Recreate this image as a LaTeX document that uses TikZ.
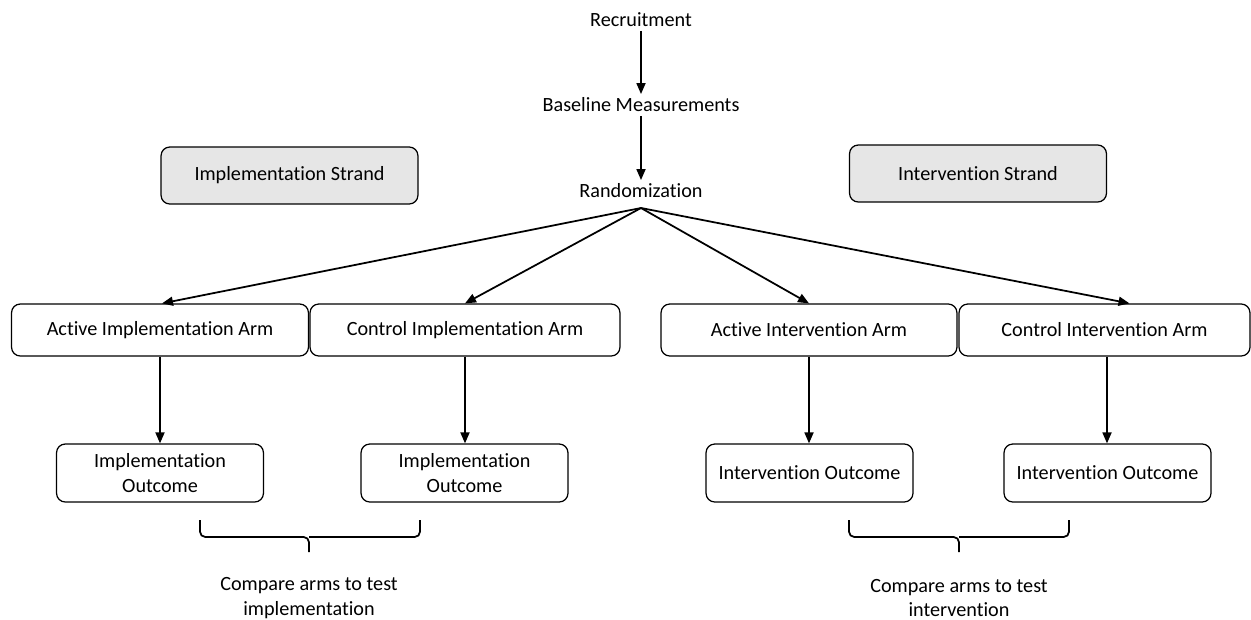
\documentclass[tikz,border=0pt]{standalone}
\usepackage{fontspec}
\setmainfont{Carlito}[Ligatures=NoCommon]
\usepackage{tikz}
\usetikzlibrary{arrows.meta, positioning, calc}
\definecolor{cStrand}{RGB}{230,230,230}
\tikzset{
	plain/.style={inner sep=2pt, font=\fontsize{11.5}{13.8}\selectfont, align=center},
	strand/.style={rectangle, rounded corners=5pt, draw=black, line width=0.7pt, fill=cStrand, minimum width=5.14cm, minimum height=1.14cm, font=\fontsize{11.5}{13.8}\selectfont},
	arm/.style={rectangle, rounded corners=5pt, draw=black, line width=0.7pt, fill=white, minimum height=1.04cm, font=\fontsize{11.5}{13.8}\selectfont},
	outcome/.style={rectangle, rounded corners=5pt, draw=black, line width=0.7pt, fill=white, minimum width=4.14cm, minimum height=1.16cm, align=center, font=\fontsize{11.5}{13.8}\selectfont},
	flowarrow/.style={-{Triangle[length=2.2mm, width=1.8mm]}, line width=1pt},
	% bracket under the outcomes
	bracket/.style={line width=1pt, rounded corners=3pt},
}

\begin{document}
\begin{tikzpicture}[x=0.02cm, y=-0.02cm]
	\useasboundingbox (0,0) rectangle (1251,619);
	% trunk
	\node[plain] (recruit) at (641,20)  {Recruitment};
	\node[plain] (base)    at (641,105) {Baseline Measurements};
	\node[plain] (rand)    at (641,191) {Randomization};
	\draw[flowarrow] (recruit) -- (base);
	\draw[flowarrow] (base) -- (rand);
	% strands
	\node[strand] (implstrand) at (289.5,175.5) {Implementation Strand};
	\node[strand] (intvstrand) at (978,173.5)   {Intervention Strand};
	% arms
	\node[arm, minimum width=5.94cm] (actimpl) at (160,330) {Active Implementation Arm};
	\node[arm, minimum width=6.2cm]  (conimpl) at (465,330)   {Control Implementation Arm};
	\node[arm, minimum width=5.92cm] (actintv) at (809,330)   {Active Intervention Arm};
	\node[arm, minimum width=5.82cm] (conintv) at (1104.5,330) {Control Intervention Arm};
	\coordinate (split) at (641,208);
	\draw[flowarrow] (split) -- ($(actimpl.north)+(2,0)$);
	\draw[flowarrow] (split) -- (conimpl.north);
	\draw[flowarrow] (split) -- (actintv.north);
	\draw[flowarrow] (split) -- ($(conintv.north)+(25,0)$);
	% outcomes
	\node[outcome] (outimpla) at (160,473) {Implementation\\Outcome};
	\node[outcome] (outimplb) at (464.5,473) {Implementation\\Outcome};
	\node[outcome] (outintva) at (809.5,473) {Intervention Outcome};
	\node[outcome] (outintvb) at (1107.5,473) {Intervention Outcome};
	\coordinate (cibot) at ($(conintv.south)+(2.5,0)$);
	\draw[flowarrow] (actimpl.south) -- (actimpl.south |- outimpla.north);
	\draw[flowarrow] (conimpl.south) -- (conimpl.south |- outimplb.north);
	\draw[flowarrow] (actintv.south) -- (actintv.south |- outintva.north);
	\draw[flowarrow] (cibot) -- (cibot |- outintvb.north);
	% brackets
	\draw[bracket] (200,520) |- (309,537) -- (309,552);
	\draw[bracket] (420,520) |- (309,537);
	\draw[bracket] (849,520) |- (959,537) -- (959,552);
	\draw[bracket] (1069,520) |- (959,537);
	\node[plain] (cmpimpl) at (309,598) {Compare arms to test\\implementation};
	\node[plain] (cmpintv) at (959,598) {Compare arms to test\\intervention};
\end{tikzpicture}
\end{document}
